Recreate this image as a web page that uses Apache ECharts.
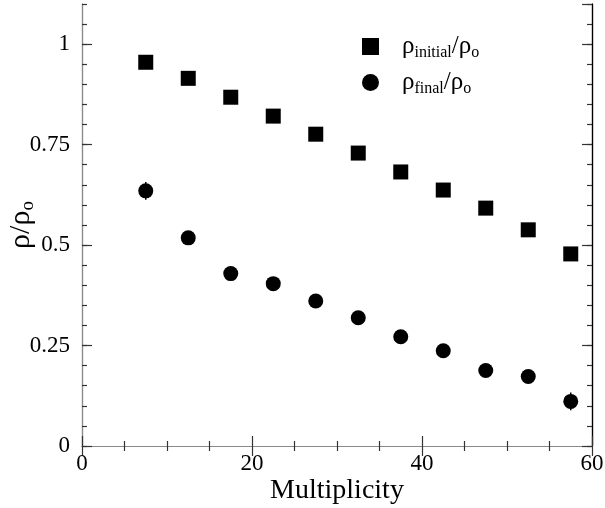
<!DOCTYPE html>
<html><head><meta charset="utf-8">
<script src="https://cdn.jsdelivr.net/npm/echarts@6/dist/echarts.min.js"></script>
<style>html,body{margin:0;padding:0;background:#fff}#c{width:605px;height:508px}</style>
</head><body><div id="c"></div>
<script>
var multiplicity = [7.5, 12.5, 17.5, 22.5, 27.5, 32.5, 37.5, 42.5, 47.5, 52.5, 57.5];
var rhoInitial = [0.955, 0.915, 0.868, 0.821, 0.776, 0.729, 0.682, 0.637, 0.592, 0.538, 0.478];
var rhoFinal = [0.635, 0.518, 0.429, 0.404, 0.361, 0.319, 0.272, 0.237, 0.188, 0.173, 0.111];
var rhoFinalErr = [0.022, 0.015, 0.013, 0.013, 0.013, 0.013, 0.013, 0.013, 0.013, 0.014, 0.022];
var xTicks = {min: 0, max: 60, major: 20, minorSplit: 4};
var yTicks = {min: 0, max: 1.1, major: 0.25, minor: 0.05};

var FONT = '"Liberation Serif", "DejaVu Serif", serif';
var GRAY = '#8a8a8a';
var TICK = '#333';

function pairs(xs, ys) { return xs.map(function (x, i) { return [x, ys[i]]; }); }
var errData = multiplicity.map(function (x, i) { return [x, rhoFinal[i], rhoFinalErr[i]]; });

function xAxisDef(pos, showLabel) {
  return {
    type: 'value', position: pos, min: xTicks.min, max: xTicks.max, interval: xTicks.major,
    axisLine: {show: true, lineStyle: {color: GRAY, width: 1.2}},
    axisTick: {show: true, inside: true, length: 10, lineStyle: {color: TICK, width: 1.2}},
    minorTick: {show: true, splitNumber: xTicks.minorSplit, length: 5, lineStyle: {color: TICK, width: 1.2}},
    splitLine: {show: false},
    axisLabel: {show: showLabel, fontFamily: FONT, fontSize: 23, color: '#000', margin: 6},
    name: showLabel ? 'Multiplicity' : '', nameLocation: 'middle', nameGap: 31, nameMoveOverlap: false,
    nameTextStyle: {fontFamily: FONT, fontSize: 28, color: '#000'}
  };
}
function yAxisDef(pos, interval, len, showLabel, lineColor) {
  return {
    type: 'value', position: pos, min: yTicks.min, max: yTicks.max, interval: interval,
    axisLine: {show: true, lineStyle: {color: lineColor, width: 1.2}},
    axisTick: {show: true, inside: true, length: len, lineStyle: {color: TICK, width: 1.2}},
    splitLine: {show: false},
    axisLabel: {show: showLabel, showMaxLabel: false, fontFamily: FONT, fontSize: 23, color: '#000', margin: 12,
      formatter: function (v) { return String(Math.round(v * 100) / 100); }},
    name: showLabel ? '{r|ρ/ρ}{s|o}' : '', nameLocation: 'middle', nameGap: 44, nameMoveOverlap: false,
    nameTextStyle: {fontFamily: FONT, color: '#000',
      rich: {r: {fontFamily: FONT, fontSize: 30, color: '#000'}, s: {fontFamily: FONT, fontSize: 19, color: '#000', padding: [14, 0, 0, 0]}}}
  };
}

var chart = echarts.init(document.getElementById('c'), null, {renderer: 'canvas'});
chart.setOption({
  animation: false,
  backgroundColor: '#fff',
  grid: {left: 82, right: 13, top: 4, bottom: 62, containLabel: false, outerBoundsMode: 'none'},
  xAxis: [xAxisDef('bottom', true), xAxisDef('top', false)],
  yAxis: [
    yAxisDef('left', yTicks.major, 10, true, GRAY),
    yAxisDef('left', yTicks.minor, 5, false, GRAY),
    yAxisDef('right', yTicks.major, 10, false, '#000'),
    yAxisDef('right', yTicks.minor, 5, false, '#000')
  ],
  legend: {
    orient: 'vertical', left: 357, top: 29, itemGap: 9, itemWidth: 17, itemHeight: 17,
    data: ['initial', 'final'],
    formatter: function (n) { return '{r|ρ}{s|' + n + '}{r|/ρ}{s|o}'; },
    textStyle: {fontFamily: FONT, color: '#000', padding: [0, 0, 0, 18],
      rich: {r: {fontFamily: FONT, fontSize: 25, color: '#000'}, s: {fontFamily: FONT, fontSize: 16, color: '#000', padding: [13, 0, 0, 0]}}}
  },
  series: [
    {name: 'initial', type: 'scatter', symbol: 'rect', symbolSize: 15, xAxisIndex: 0, yAxisIndex: 0,
     itemStyle: {color: '#000', opacity: 1}, data: pairs(multiplicity, rhoInitial), z: 5},
    {name: 'final', type: 'scatter', symbol: 'circle', symbolSize: 15, xAxisIndex: 0, yAxisIndex: 0,
     itemStyle: {color: '#000', opacity: 1}, data: pairs(multiplicity, rhoFinal), z: 5},
    {name: 'err', type: 'custom', xAxisIndex: 0, yAxisIndex: 0, z: 4, data: errData,
     renderItem: function (params, api) {
       var x = api.value(0), y = api.value(1), e = api.value(2);
       var p1 = api.coord([x, y - e]), p2 = api.coord([x, y + e]);
       return {type: 'line', shape: {x1: p1[0], y1: p1[1], x2: p2[0], y2: p2[1]}, style: {stroke: '#000', lineWidth: 1.5}};
     }}
  ]
});
</script></body></html>
